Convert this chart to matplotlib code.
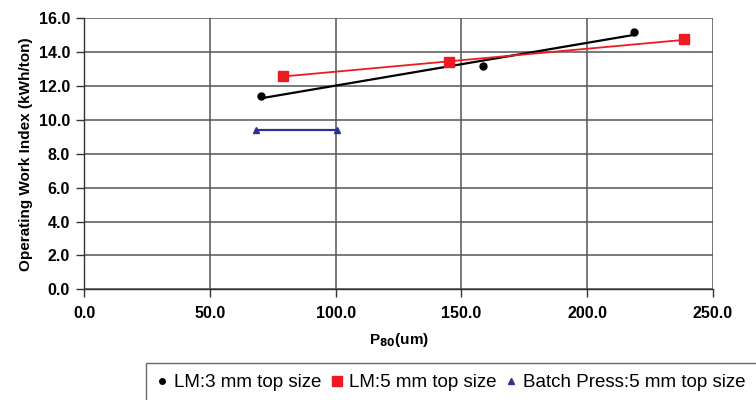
# Operating work index vs P80 for the three grinding tests

import numpy
import matplotlib
matplotlib.use('Agg')
import matplotlib.pyplot
from matplotlib.lines import Line2D

# Data
lm3_p80 = [70.4, 158.4, 218.6]
lm3_wi = [11.4, 13.2, 15.2]
lm5_p80 = [79.1, 145.1, 238.4]
lm5_wi = [12.6, 13.4, 14.75]
press_p80 = [68.3, 100.4]
press_wi = [9.4, 9.4]

labels = ['LM:3 mm top size', 'LM:5 mm top size', 'Batch Press:5 mm top size']
x_ticks = [0, 50, 100, 150, 200, 250]
y_ticks = [0, 2, 4, 6, 8, 10, 12, 14, 16]

black = '#000000'
red = '#ED1C24'
blue = '#2E3192'

matplotlib.pyplot.rcParams['font.family'] = ['Liberation Sans', 'DejaVu Sans']

fig = matplotlib.pyplot.figure(figsize=(7.56, 4.0), dpi=100, facecolor='white')
ax = fig.add_axes([84/756, 1-289.3/400, (713-84)/756, (289.3-18.3)/400])

# Grid
ax.set_axisbelow(True)
ax.grid(True, color='#555555', linewidth=1.1)

# Linear trend lines for the two LM series
for px, wy, col, lw in ((lm3_p80, lm3_wi, black, 1.6), (lm5_p80, lm5_wi, red, 1.3)):
    k, c = numpy.polyfit(px, wy, 1)
    xs = numpy.array([min(px), max(px)])
    ax.plot(xs, k*xs + c, color=col, linewidth=lw, zorder=3)

ax.plot(press_p80, press_wi, color=blue, linewidth=1.6, zorder=3)

# Markers
ax.plot(lm3_p80, lm3_wi, 'o', color=black, markersize=5, zorder=4, clip_on=False)
ax.plot(lm5_p80, lm5_wi, 's', color=red, markersize=6.5, zorder=4, clip_on=False)
ax.plot(press_p80, press_wi, '^', color=blue, markersize=5, zorder=4, clip_on=False)

ax.set_xlim(0, 250)
ax.set_ylim(0, 16)
ax.set_xticks(x_ticks)
ax.set_yticks(y_ticks)
ax.set_xticklabels(['%.1f' % v for v in x_ticks], fontweight='bold', fontsize=11.5)
ax.set_yticklabels(['%.1f' % v for v in y_ticks], fontweight='bold', fontsize=11.5)
ax.tick_params(axis='both', direction='out', length=6, width=1, color='#333333')
ax.tick_params(axis='x', pad=6)
ax.tick_params(axis='y', pad=4)

for side in ('top', 'right'):
    ax.spines[side].set_visible(False)
for side in ('left', 'bottom'):
    ax.spines[side].set_color('#333333')
    ax.spines[side].set_linewidth(1.0)

ax.set_xlabel('P$_{\\mathbf{80}}$(um)', fontweight='bold', fontsize=11, labelpad=7)
ax.set_ylabel('Operating Work Index (kWh/ton)', fontweight='bold', fontsize=11, labelpad=4)

# Legend below the plot, running off the edge like the original
handles = [Line2D([], [], marker='o', linestyle='none', color=black, markersize=4),
           Line2D([], [], marker='s', linestyle='none', color=red, markersize=6.5),
           Line2D([], [], marker='^', linestyle='none', color=blue, markersize=4.5)]
leg = fig.legend(handles, labels, loc='upper left', bbox_to_anchor=(146/756, 1-363/400),
                 ncol=3, fontsize=13.5, frameon=True, fancybox=False, shadow=False,
                 handlelength=0.5, handletextpad=0.4, columnspacing=0.55,
                 borderpad=0.6, borderaxespad=0)
leg.get_frame().set_edgecolor('#444444')
leg.get_frame().set_linewidth(1.0)

matplotlib.pyplot.savefig('out.png', dpi=100, facecolor=fig.get_facecolor())
